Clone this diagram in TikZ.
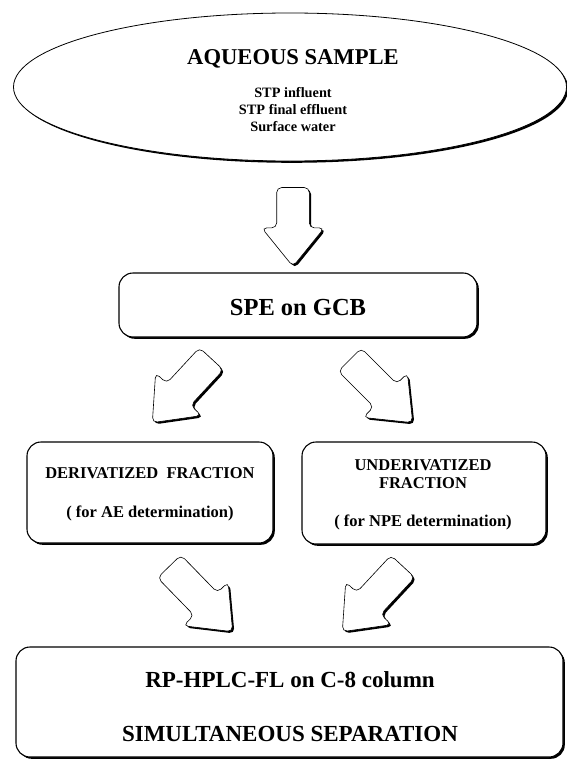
\documentclass[tikz,border=0pt]{standalone}
\usepackage{fontspec}
\setmainfont{Liberation Serif}
\usetikzlibrary{shapes.geometric,shapes.arrows,shadows}

\begin{document}
\begin{tikzpicture}[
    x=1pt, y=-1pt,
    every node/.style={inner sep=0pt, font=\bfseries},
    outline/.style={draw, fill=white,
        drop shadow={shadow xshift=1.8pt, shadow yshift=-1.8pt, fill=black, opacity=1}},
    sampleoval/.style={outline, ellipse, line width=0.8pt},
    procbox/.style={outline, rectangle, rounded corners=14pt, line width=1.1pt},
    flowarrow/.style={outline, single arrow, anchor=tip, line width=0.6pt, rounded corners=5pt,
        inner xsep=0pt, inner ysep=16pt, minimum width=62pt,
        single arrow head extend=15pt, single arrow tip angle=78},
    txt/.style={anchor=base},
    titlefont/.style={font=\fontsize{22.6}{27}\selectfont\bfseries},
    listfont/.style={font=\fontsize{14.3}{17}\selectfont\bfseries},
    spefont/.style={font=\fontsize{24.5}{29}\selectfont\bfseries},
    fracfont/.style={font=\fontsize{16.5}{20}\selectfont\bfseries},
    hplcfont/.style={font=\fontsize{23}{28}\selectfont\bfseries}
]
\useasboundingbox (0,0) rectangle (567,760);

% sample
\node[sampleoval, minimum width=553pt, minimum height=148pt] (sample) at (290,87) {};
\node[txt, titlefont] (sampletitle) at (293,65) {AQUEOUS SAMPLE};
\node[txt, listfont] (influent) at (293,97) {STP influent};
\node[txt, listfont] (effluent) at (293,114) {STP final effluent};
\node[txt, listfont] (surface) at (293,131) {Surface water};

% extraction
\node[flowarrow, rotate=-90, minimum height=79pt] (toSPE) at (293,267) {};
\node[procbox, minimum width=358pt, minimum height=64pt] (spe) at (298,305) {};
\node[txt, spefont] (spetext) at (298,315) {SPE on GCB};

% the two fractions
\node[flowarrow, rotate=-132.8, minimum height=87pt] (toDer) at (152,423) {};
\node[flowarrow, rotate=-45, minimum height=89pt] (toUnder) at (413,423) {};

\node[procbox, minimum width=246pt, minimum height=101pt] (der) at (150,492.5) {};
\node[txt, fracfont] (dertext) at (150,478) {DERIVATIZED\ \ FRACTION};
\node[txt, fracfont] (dernote) at (150,517) {( for AE determination)};

\node[procbox, minimum width=244pt, minimum height=102pt] (under) at (424,493) {};
\node[txt, fracfont] (undertext) at (423,470) {UNDERIVATIZED};
\node[txt, fracfont] (underfrac) at (423,488) {FRACTION};
\node[txt, fracfont] (undernote) at (423,526) {( for NPE determination)};

% separation
\node[flowarrow, rotate=-45.8, minimum height=91pt] (derToHplc) at (233,632) {};
\node[flowarrow, rotate=-132.9, minimum height=89pt] (underToHplc) at (342,632) {};

\node[procbox, minimum width=547pt, minimum height=110pt] (hplc) at (289.5,702) {};
\node[txt, hplcfont] (hplctext) at (290,687) {RP-HPLC-FL on C-8 column};
\node[txt, hplcfont] (septext) at (290,741) {SIMULTANEOUS SEPARATION};
\end{tikzpicture}
\end{document}
